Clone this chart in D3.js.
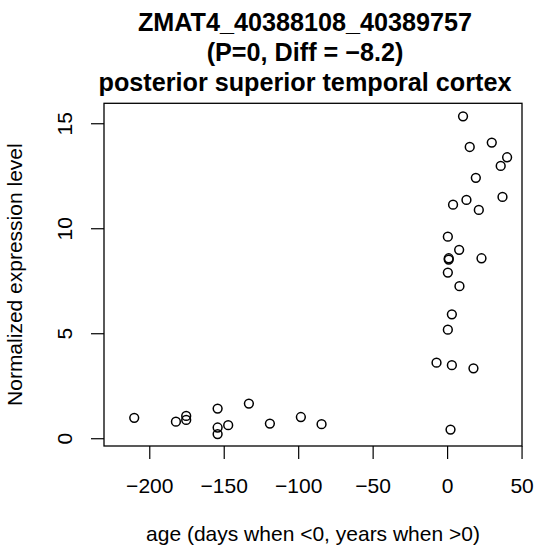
<!DOCTYPE html>
<html>
<head>
<meta charset="utf-8">
<script src="https://cdn.jsdelivr.net/npm/d3@7"></script>
<style>
  body { margin: 0; background: #fff; }
  text { font-family: "Liberation Sans", Arial, Helvetica, sans-serif; }
</style>
</head>
<body>
<div id="plot"></div>
<script>
// title lines
var titleLines = ["ZMAT4_40388108_40389757", "(P=0, Diff = \u22128.2)", "posterior superior temporal cortex"];

// ages (days when <0, years when >0) and expression levels
var ages = [-210.1, -182.1, -175.2, -175.2, -154.1, -154.1, -154.1, -147.0, -133.1, -119.0, -98.2, -84.3,
            10.7, 15.2, 30.0, 40.3, 36.0, 19.3, 37.2, 4.0, 13.0, 21.3, 0.5, 8.1, 1.1, 1.1, 23.1, 0.5,
            8.3, 3.2, 0.5, -7.1, 3.2, 17.7, 2.3];
var levels = [0.97, 0.79, 1.06, 0.87, 1.41, 0.51, 0.20, 0.62, 1.65, 0.70, 1.01, 0.67,
              15.33, 13.87, 14.08, 13.38, 12.97, 12.40, 11.49, 11.12, 11.35, 10.87, 9.60, 8.97, 8.57, 8.51, 8.57, 7.89,
              7.24, 5.90, 5.17, 3.60, 3.48, 3.33, 0.41];

var xTicks = [-200, -150, -100, -50, 0, 50];
var yTicks = [0, 5, 10, 15];

var width = 536, height = 548;
var margin = {top: 103.3, right: 14, bottom: 102, left: 104};

var svg = d3.select("#plot")
  .append("svg")
  .attr("width", width)
  .attr("height", height);

var x = d3.scaleLinear()
  .domain([-230.4, 50.3])
  .range([margin.left, width - margin.right]);

var y = d3.scaleLinear()
  .domain([-0.37, 15.95])
  .range([height - margin.bottom, margin.top]);

var fmt = function(d) { return d < 0 ? "\u2212" + Math.abs(d) : "" + d; };

// x axis
var xAxis = svg.append("g")
  .attr("transform", `translate(0,${height - margin.bottom})`)
  .call(d3.axisBottom(x).tickValues(xTicks).tickSize(13).tickSizeOuter(0).tickFormat(fmt));

// y axis
var yAxis = svg.append("g")
  .attr("transform", `translate(${margin.left},0)`)
  .call(d3.axisLeft(y).tickValues(yTicks).tickSize(13).tickSizeOuter(0).tickFormat(fmt));

[xAxis, yAxis].forEach(function(ax) {
  ax.select(".domain").remove();
  ax.selectAll(".tick line").attr("stroke", "#000").attr("stroke-width", 1.2);
  ax.selectAll(".tick text").attr("fill", "#000").style("font-size", "21px");
});

xAxis.selectAll(".tick text")
  .attr("y", 47).attr("dy", null);

yAxis.selectAll(".tick text")
  .attr("x", null).attr("dy", null)
  .attr("text-anchor", "middle")
  .attr("transform", "translate(-32,0) rotate(-90)");

// box
svg.append("rect")
  .attr("x", margin.left)
  .attr("y", margin.top)
  .attr("width", width - margin.right - margin.left)
  .attr("height", height - margin.bottom - margin.top)
  .attr("fill", "none")
  .attr("stroke", "#000")
  .attr("stroke-width", 1.3);

// points
svg.selectAll(".pt")
  .data(ages.map(function(a, i) { return {age: a, level: levels[i]}; }))
  .join("circle")
  .attr("class", "pt")
  .attr("cx", function(d) { return x(d.age); })
  .attr("cy", function(d) { return y(d.level); })
  .attr("r", 4.4)
  .attr("fill", "none")
  .attr("stroke", "#000")
  .attr("stroke-width", 1.5);

// title
var cx = (margin.left + width - margin.right) / 2;
svg.selectAll(".title")
  .data(titleLines)
  .join("text")
  .attr("class", "title")
  .attr("x", cx - 8)
  .attr("y", function(d, i) { return 30.7 + i * 30.3; })
  .attr("text-anchor", "middle")
  .style("font-size", "25.2px")
  .style("font-weight", "bold")
  .text(function(d) { return d; });

// axis labels
svg.append("text")
  .attr("x", cx)
  .attr("y", 541)
  .attr("text-anchor", "middle")
  .style("font-size", "21px")
  .text("age (days when <0, years when >0)");

svg.append("text")
  .attr("transform", `translate(21.7,${(margin.top + height - margin.bottom) / 2}) rotate(-90)`)
  .attr("text-anchor", "middle")
  .style("font-size", "21px")
  .text("Normalized expression level");
</script>
</body>
</html>
